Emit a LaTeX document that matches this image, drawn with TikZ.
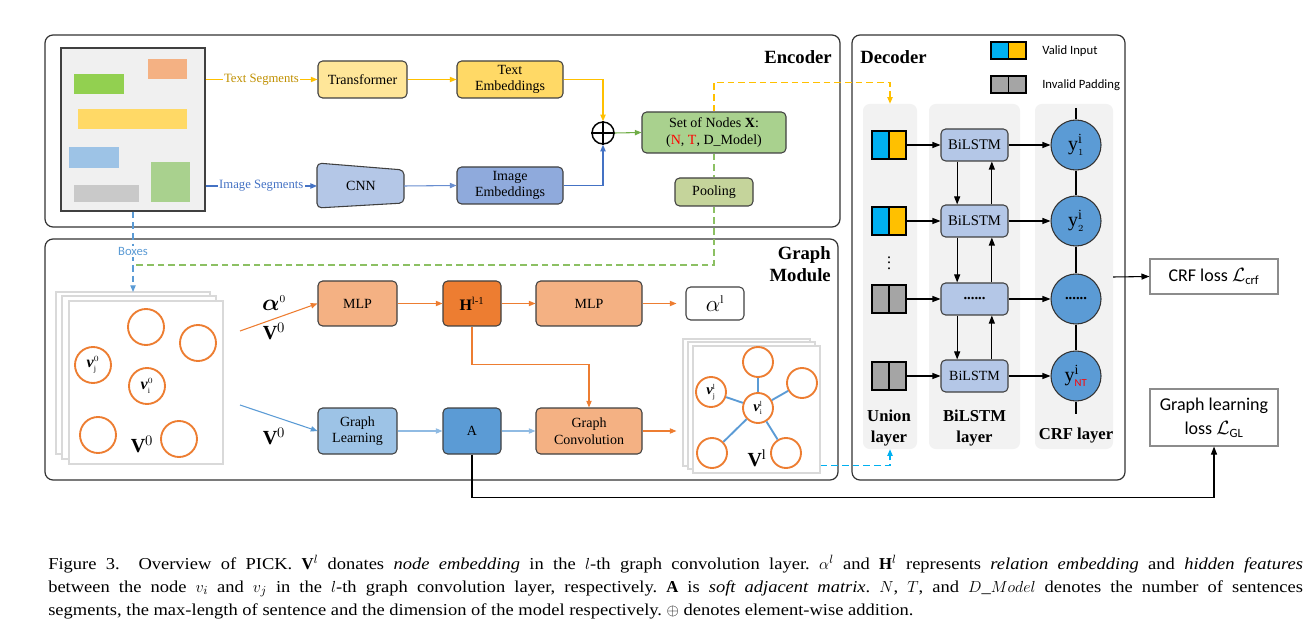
\documentclass[tikz,border=0pt]{standalone}
\usepackage{amsmath}
\usepackage{fontspec}
\setmainfont{Liberation Serif}
\newfontfamily\calib{Carlito}
\newfontfamily\capfont[FakeStretch=1.11]{Liberation Serif}
\usetikzlibrary{arrows.meta,fit,calc}
\definecolor{yline}{HTML}{FFC000}
\definecolor{goldtxt}{HTML}{C09000}
\definecolor{imgblue}{HTML}{4472C4}
\definecolor{transf}{HTML}{FFE699}
\definecolor{tembf}{HTML}{FFD966}
\definecolor{cnnf}{HTML}{B4C7E7}
\definecolor{iembf}{HTML}{8FAADC}
\definecolor{setf}{HTML}{A9D18E}
\definecolor{poolf}{HTML}{C5D49B}
\definecolor{lblue}{HTML}{5B9BD5}
\definecolor{gdash}{HTML}{8CC063}
\definecolor{greenA}{HTML}{92D050}
\definecolor{greenB}{HTML}{70AD47}
\definecolor{orangeC}{HTML}{ED7D31}
\definecolor{mlpf}{HTML}{F4B183}
\definecolor{glf}{HTML}{9DC3E6}
\definecolor{cyanC}{HTML}{00B0F0}
\definecolor{grayq}{HTML}{A5A5A5}
\definecolor{colf}{HTML}{F2F2F2}
\definecolor{docf}{HTML}{F0F0F0}
\definecolor{pageb}{HTML}{D9D9D9}
\newcommand\nfont{\fontsize{10.5}{12.5}\selectfont}
\begin{document}
\begin{tikzpicture}[x=0.75pt,y=-0.75pt,
  sz/.style 2 args={minimum width={#1*0.75pt}, minimum height={#2*0.75pt}},
  bx/.style={draw=black!75, rounded corners=3.5pt, line width=0.8pt, inner sep=0pt, align=center, font=\nfont},
  frame/.style={draw=black!80, rounded corners=6pt, line width=0.9pt, inner sep=0pt},
  arr/.style={-{Triangle[length=5pt,width=4pt]}, line width=0.8pt},
  darr/.style={-{Triangle[length=6pt,width=4.5pt]}, line width=0.8pt},
  ttl/.style={font=\fontsize{14}{16.5}\selectfont\bfseries, inner sep=0pt},
  ocirc/.style={circle, draw=orangeC, line width=1.4pt, fill=white, minimum size=27pt, inner sep=0pt},
  scirc/.style={circle, draw=orangeC, line width=1.4pt, fill=white, minimum size=22.5pt, inner sep=0pt},
  page/.style={draw=pageb, fill=white, line width=0.8pt, inner sep=0pt},
  col/.style={fill=colf, rounded corners=5pt, inner sep=0pt},
  sq/.style={draw=black, line width=0.8pt, inner sep=0pt},
  bil/.style={bx, fill=cnnf, sz={67}{32}, font=\fontsize{11}{13}\selectfont},
  crfc/.style={circle, draw=black!80, fill=lblue, line width=0.8pt, minimum size=37.5pt, inner sep=0pt, font=\fontsize{15}{16}\selectfont},
  lossbox/.style={draw=black!45, line width=0.8pt, inner sep=0pt, align=center, font=\calib\fontsize{13.5}{18}\selectfont},
  seglbl/.style={fill=white, inner sep=1pt, font=\fontsize{9.5}{11}\selectfont}
]
\useasboundingbox (0,0) rectangle (1313,634);

% ================= Encoder =================
\node[frame, fit={(45,35)(840,227)}] (enc) {};
\node[ttl, anchor=east] at (832,57) {Encoder};

\node[draw=black!75, fill=docf, line width=0.8pt, inner sep=0pt, fit={(61,48)(205,211)}] (doc) {};
\fill[mlpf] (148,59) rectangle (187,79);
\fill[greenA] (74,74) rectangle (124,94);
\fill[tembf] (78,109) rectangle (187,129);
\fill[glf] (69,147) rectangle (119,168);
\fill[black!21] (74,185) rectangle (139,202);
\fill[setf] (151,162) rectangle (190,202);

\node[bx, fill=transf, sz={89}{37}] (trans) at (362.5,79.5) {Transformer};
\node[bx, fill=tembf, sz={106}{37}] (temb) at (510,79.5) {Text\\Embeddings};
\node[bx, fill=iembf, sz={106}{37}] (iemb) at (510,185.5) {Image\\Embeddings};
\filldraw[fill=cnnf, draw=black!75, line width=0.8pt, rounded corners=3.5pt]
  (317,163) -- (404,170) -- (404,203) -- (317,208) -- cycle;
\node[font=\nfont] (cnn) at (361,186) {CNN};
\coordinate (cnnL) at (317,186);
\coordinate (cnnR) at (404,186);

\node[circle, draw=black, line width=1.1pt, minimum size=16.5pt, inner sep=0pt] (plus) at (603,133) {};
\draw[line width=1.1pt] (plus.north) -- (plus.south) (plus.west) -- (plus.east);

\node[bx, fill=setf, sz={144}{41}] (setn) at (714,132.5) {Set of Nodes \textbf{X}:\\(\textcolor{red}{N}, \textcolor{red}{T}, D\_Model)};
\node[bx, fill=poolf, sz={78}{28}] (pool) at (714,192) {Pooling};

\draw[arr, yline] (doc.east |- trans.west) -- node[seglbl, text=goldtxt] {Text Segments} (trans.west);
\draw[arr, imgblue] (doc.east |- cnnL) -- node[seglbl, text=imgblue] {Image Segments} (cnnL);
\draw[arr, yline] (trans.east) -- (temb.west);
\draw[arr, imgblue!80] (cnnR) -- (iemb.west);
\draw[arr, yline] (temb.east) -| (plus.north);
\draw[arr, imgblue] (iemb.east) -| (plus.south);
\draw[arr, greenB] (plus.east) -- (setn.west);

% ================= Graph module =================
\node[frame, fit={(45,239)(838,480)}] (gm) {};
\node[ttl, anchor=north east, align=right] at (831,246) {Graph\\Module};

\node[page, fit={(56,292)(210,454)}] (pgL3) {};
\node[page, fit={(62,296)(216,459)}] (pgL2) {};
\node[page, fit={(69,301)(223,464)}] (pgL) {};
\node[ocirc] (l1) at (146,327) {};
\node[ocirc] (l2) at (198,343) {};
\node[ocirc, font=\fontsize{12}{13}\selectfont] (lvj) at (93,365) {\textbf{\textit{v}}$^{\scriptscriptstyle 0}_{\scriptscriptstyle\mathrm{j}}$};
\node[ocirc, font=\fontsize{12}{13}\selectfont] (lvi) at (147,386) {\textbf{\textit{v}}$^{\scriptscriptstyle 0}_{\scriptscriptstyle\mathrm{i}}$};
\node[ocirc] (l5) at (98,435) {};
\node[ocirc] (l6) at (179,439) {};
\node[font=\fontsize{15}{16}\selectfont] at (142,444) {$\mathbf{V}^{0}$};

% dashed connectors from encoder
\coordinate (bxs) at (133,292);
\draw[arr, lblue, dash pattern=on 5pt off 3pt] (doc.south) -- node[pos=0.5, fill=white, inner sep=1pt, font=\calib\fontsize{9.5}{11}\selectfont, text=lblue] {Boxes} (bxs);
\draw[gdash, line width=0.9pt, dash pattern=on 5pt off 3pt] (setn.south) -- (pool.north);
\draw[gdash, line width=0.9pt, dash pattern=on 5pt off 3pt] (pool.south) |- (135,265);

\node[bx, fill=mlpf, sz={79}{45}] (mlp1) at (357.5,303.5) {MLP};
\node[bx, fill=orangeC, sz={58}{45}, font=\fontsize{12}{14}\selectfont] (hh) at (472,303.5) {\textbf{H}\textsuperscript{l-1}};
\node[bx, fill=mlpf, sz={106}{45}] (mlp2) at (589,303.5) {MLP};
\node[bx, fill=white, sz={58}{33}, font=\fontsize{17}{18}\selectfont] (alph) at (715,303.5) {$\alpha^{\scriptscriptstyle\mathrm{l}}$};
\node[bx, fill=glf, sz={79}{46}] (gl) at (357.5,431) {Graph\\Learning};
\node[bx, fill=lblue, sz={58}{46}] (aa) at (472,431) {A};
\node[bx, fill=mlpf, sz={106}{46}] (gc) at (589,431) {Graph\\Convolution};

\coordinate (oa) at (240,331);
\coordinate (ba) at (240,405);
\draw[arr, orangeC] (oa) -- (mlp1.west);
\draw[arr, lblue] (ba) -- (gl.west);
\node[font=\fontsize{17}{18}\selectfont] at (274,303) {$\boldsymbol{\alpha}^{\scriptscriptstyle 0}$};
\node[font=\fontsize{15}{16}\selectfont] at (274,331) {$\mathbf{V}^{0}$};
\node[font=\fontsize{15}{16}\selectfont] at (274,436) {$\mathbf{V}^{0}$};
\draw[arr, orangeC] (mlp1.east) -- (hh.west);
\draw[arr, orangeC] (hh.east) -- (mlp2.west);
\draw[arr, orangeC] (mlp2.east) -- ($(alph.west)+(-9,0)$);
\draw[arr, glf!80!lblue] (gl.east) -- (aa.west);
\draw[arr, glf!80!lblue] (aa.east) -- (gc.west);
\draw[arr, orangeC] (hh.south) -- ++(0,38) -| (gc.north);

\node[page, fit={(683,339)(810,466)}] (pgR3) {};
\node[page, fit={(688,342)(815,469)}] (pgR2) {};
\node[page, fit={(693,346)(820,473)}] (pgR) {};
\draw[arr, orangeC] (gc.east) -- ($(pgR3.west |- gc.east)+(-6,0)$);
\node[scirc] (r1) at (758,362) {};
\node[scirc] (r2) at (802,383) {};
\node[scirc, font=\fontsize{11}{12}\selectfont] (rvj) at (711,392) {\textbf{\textit{v}}$^{\scriptscriptstyle\mathrm{l}}_{\scriptscriptstyle\mathrm{j}}$};
\node[scirc, font=\fontsize{11}{12}\selectfont] (rvi) at (758,408) {\textbf{\textit{v}}$^{\scriptscriptstyle\mathrm{l}}_{\scriptscriptstyle\mathrm{i}}$};
\node[scirc] (r5) at (712,453) {};
\node[scirc] (r6) at (786,453) {};
\foreach \n in {r1,r2,rvj,r5,r6} \draw[lblue, line width=1.4pt] (rvi) -- (\n);
\node[font=\fontsize{15}{16}\selectfont] at (757,458) {$\mathbf{V}^{\mathrm{l}}$};

% ================= Decoder =================
\node[frame, fit={(852,35)(1125,480)}] (dec) {};
\node[ttl, anchor=west] at (860,57) {Decoder};

\fill[cyanC] (991,42) rectangle (1008.5,59);
\fill[yline] (1008.5,42) rectangle (1026,59);
\node[sq, fit={(991,42)(1026,59)}] (lgv) {};
\draw[line width=0.8pt] (lgv.north) -- (lgv.south);
\fill[grayq] (991,76) rectangle (1026,93);
\node[sq, fit={(991,76)(1026,93)}] (lgi) {};
\draw[line width=0.8pt] (lgi.north) -- (lgi.south);
\node[anchor=west, font=\calib\fontsize{9.5}{11}\selectfont, inner sep=0pt] at (1042,51) {Valid Input};
\node[anchor=west, font=\calib\fontsize{9.5}{11}\selectfont, inner sep=0pt] at (1042,85) {Invalid Padding};

\node[col, fit={(863,104)(917,449)}] (ucol) {};
\node[col, fit={(929,104)(1020,449)}] (bcol) {};
\node[col, fit={(1035,104)(1113,449)}] (ccol) {};

% union squares
\fill[cyanC] (872,131) rectangle (889,159); \fill[yline] (889,131) rectangle (906,159);
\node[sq, fit={(872,131)(906,159)}] (u1) {};
\fill[cyanC] (872,207) rectangle (889,235); \fill[yline] (889,207) rectangle (906,235);
\node[sq, fit={(872,207)(906,235)}] (u2) {};
\fill[grayq] (872,285) rectangle (906,313);
\node[sq, fit={(872,285)(906,313)}] (u3) {};
\fill[grayq] (872,362) rectangle (906,390);
\node[sq, fit={(872,362)(906,390)}] (u4) {};
\foreach \u in {u1,u2,u3,u4} \draw[line width=0.8pt] (\u.north) -- (\u.south);
\node[font=\fontsize{12}{13}\selectfont] at (889,259) {$\vdots$};

% BiLSTM boxes
\node[bil] (b1) at (974.5,145) {BiLSTM};
\node[bil] (b2) at (974.5,221) {BiLSTM};
\node[bil] (b3) at (974.5,299) {\textbf{......}};
\node[bil, font=\fontsize{10.5}{12}\selectfont] (b4) at (974.5,376) {BiLSTM};
\foreach \a/\b in {b1/b2,b2/b3,b3/b4}{
  \draw[darr] ([xshift=-13pt]\a.south) -- ([xshift=-13pt]\b.north);
  \draw[darr] ([xshift=13pt]\b.north) -- ([xshift=13pt]\a.south);
}

% CRF circles
\node[crfc] (c1) at (1076,145) {y$^{\mathrm{i}}_{\scriptscriptstyle 1}$};
\node[crfc] (c2) at (1076,221) {y$^{\mathrm{i}}_{\scriptscriptstyle 2}$};
\node[crfc] (c3) at (1076,299) {\textbf{\fontsize{11}{12}\selectfont ......}};
\node[crfc] (c4) at (1076,376) {y$^{\mathrm{i}}_{\mbox{\calib\fontsize{8}{9}\selectfont\color{red}NT}}$};
\coordinate (ctop) at (1076,108);
\coordinate (cbot) at (1076,414);
\draw[line width=0.8pt] (ctop) -- (c1.north) (c1.south) -- (c2.north) (c2.south) -- (c3.north) (c3.south) -- (c4.north) (c4.south) -- (cbot);

\foreach \i in {1,2,3,4}{
  \draw[darr] (u\i.east) -- (b\i.west);
  \draw[darr] (b\i.east) -- (c\i.west);
}

\node[font=\fontsize{12.5}{15.5}\selectfont\bfseries, align=center] at (889,428) {Union\\layer};
\node[font=\fontsize{12.5}{15.5}\selectfont\bfseries, align=center] at (974.5,428) {BiLSTM\\layer};
\node[font=\fontsize{12.5}{15.5}\selectfont\bfseries] at (1076,436) {CRF layer};

% dashed connectors into decoder
\draw[arr, yline, line width=0.9pt, dash pattern=on 5pt off 3pt] (setn.north) -- ++(0,-29) -| (ucol.north);
\draw[arr, cyanC, line width=0.9pt, dash pattern=on 5pt off 3pt] ($(pgR.south east)+(0,-8)$) -| (ucol.south);

% losses
\node[lossbox, sz={128}{35}] (crfl) at (1214,276.5) {CRF loss $\mathcal{L}_{\text{\calib crf}}$};
\node[lossbox, sz={128}{57}] (gll) at (1214,417.5) {Graph learning\\loss $\mathcal{L}_{\text{\calib GL}}$};
\coordinate (crfout) at (1113,277);
\draw[darr] (crfout) -- (crfl.west);
\draw[darr] (aa.south) -- ++(0,43) -| (gll.south);

% ================= Caption =================
\node[anchor=base west, text width=941pt, align=justify, inner sep=0pt, font=\capfont\fontsize{12.5}{17.25}\selectfont] at (48,569) {\frenchspacing Figure 3.\ \ Overview of PICK. $\mathbf{V}^{l}$ donates \textit{node embedding} in the $l$-th graph convolution layer. $\alpha^{l}$ and $\mathbf{H}^{l}$ represents \textit{relation embedding} and \textit{hidden features}\linebreak between the node $v_i$ and $v_j$ in the $l$-th graph convolution layer, respectively. $\mathbf{A}$ is \textit{soft adjacent matrix}. $N$, $T$, and $D\_Model$ denotes the number of sentences\linebreak segments, the max-length of sentence and the dimension of the model respectively. $\oplus$ denotes element-wise addition.};
\end{tikzpicture}
\end{document}
